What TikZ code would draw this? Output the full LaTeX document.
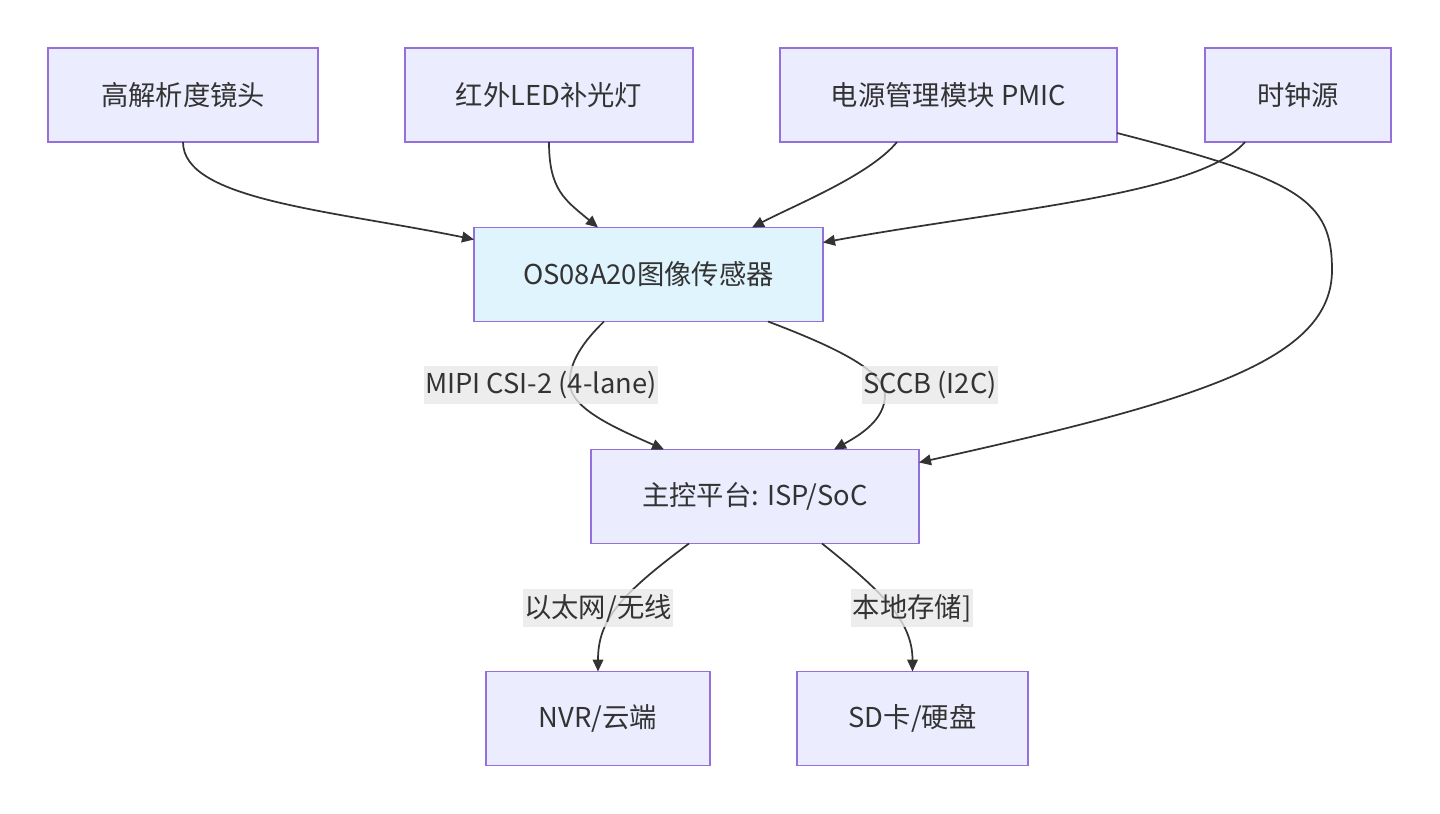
\documentclass[tikz,border=0pt]{standalone}
\usepackage{fontspec}
\setmainfont{Noto Sans CJK SC}
\usetikzlibrary{calc,arrows.meta}
\definecolor{boxfill}{HTML}{ECECFF}
\definecolor{boxline}{HTML}{9370DB}
\definecolor{sensfill}{HTML}{E0F4FD}
\definecolor{ink}{HTML}{333333}
\definecolor{lblfill}{HTML}{E8E8E8}
\tikzset{>={Triangle[length=9pt,width=8pt]},
  box/.style={draw=boxline, line width=1.1pt, fill=boxfill, text=ink, minimum height=70.5pt, inner sep=0pt, outer sep=0pt, font=\fontsize{20.5}{24}\selectfont},
  link/.style={->, draw=ink, line width=1.3pt},
  lbl/.style={fill=lblfill, fill opacity=0.8, text opacity=1, text=ink, inner xsep=1pt, inner ysep=4pt, font=\fontsize{20.5}{24}\selectfont},
}

\begin{document}
\begin{tikzpicture}[x=0.75pt,y=-0.75pt]
	\useasboundingbox (0,0) rectangle (1440,814);
	
	% top row
	\node[box, minimum width=202.5pt] (lens) at (183,95) {高解析度镜头};
	\node[box, minimum width=216pt] (ir) at (549,95) {红外LED补光灯};
	\node[box, minimum width=252.75pt] (pmic) at (948.5,95) {电源管理模块 PMIC};
	\node[box, minimum width=139.5pt] (clock) at (1298,95) {时钟源};
	
	\node[box, fill=sensfill, minimum width=261.75pt] (sensor) at (648.5,274.5) {OS08A20图像传感器};
	\node[box, minimum width=246pt] (soc) at (755,496.5) {主控平台: ISP/SoC};
	
	\node[box, minimum width=168pt] (nvr) at (598,718.5) {NVR/云端};
	\node[box, minimum width=173.25pt] (sd) at (912.5,718.5) {SD卡/硬盘};
	
	% into the sensor
	\draw[link] (lens.south) .. controls (183,200) and (330,210) .. ($(sensor.north west)+(0,12)$);
	\draw[link] (ir.south) .. controls (549,190) and (565,200) .. ($(sensor.north west)+(124,0)$);
	\draw[link] ($(pmic.south west)+(117,0)$) .. controls (870,175) and (795,205) .. ($(sensor.north west)+(278,0)$);
	\draw[link] ($(clock.south west)+(40,0)$) .. controls (1200,195) and (1000,210) .. ($(sensor.north east)+(0,15)$);
	
	% power to the SoC
	\draw[link] ($(pmic.north east)+(0,85)$) .. controls (1300,180) and (1332,200) .. (1332,270)
		.. controls (1332,360) and (1200,400) .. ($(soc.north east)+(0,13)$);
	
	% sensor to SoC
	\draw[link] ($(sensor.south west)+(130,0)$) .. controls (585,340) and (568,362) .. (570,385)
		.. controls (572,410) and (620,430) .. ($(soc.north west)+(73,0)$);
	\draw[link] ($(sensor.south west)+(294,0)$) .. controls (830,345) and (885,370) .. (885,395)
		.. controls (885,420) and (860,435) .. ($(soc.north west)+(243,0)$);
	
	% outputs
	\draw[link] ($(soc.south west)+(98,0)$) .. controls (620,595) and (598,620) .. (nvr.north);
	\draw[link] ($(soc.south west)+(231,0)$) .. controls (880,590) and (912.5,620) .. (sd.north);
	
	\node[lbl] (mipi) at (541,385) {MIPI CSI-2 (4-lane)};
	\node[lbl] (sccb) at (930,385) {SCCB (I2C)};
	\node[lbl] (net) at (598,608) {以太网/无线};
	\node[lbl] (store) at (912,608) {本地存储]};
\end{tikzpicture}
\end{document}
